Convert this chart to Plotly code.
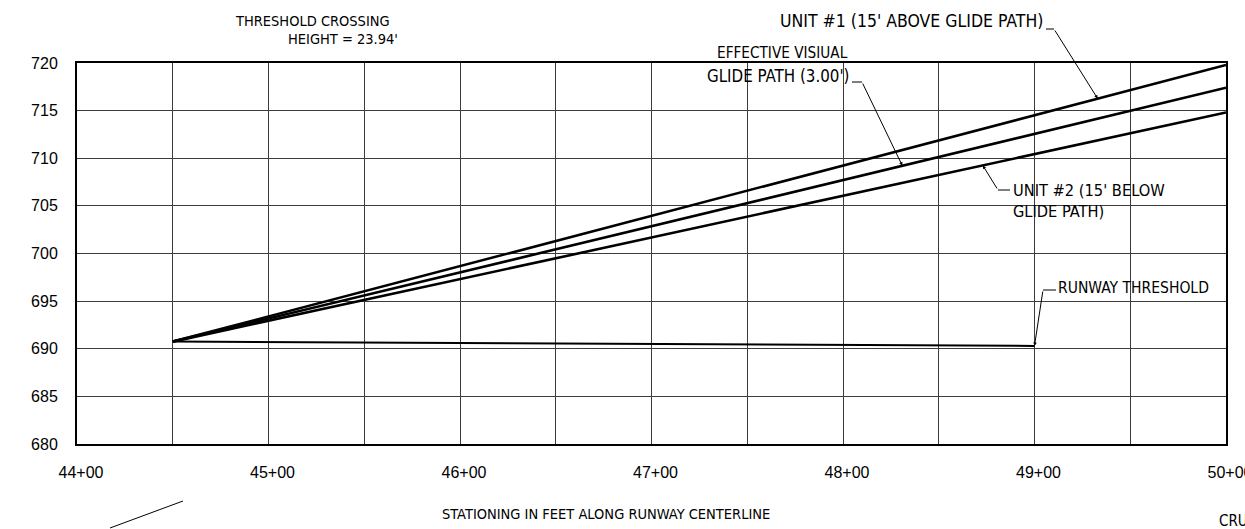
import numpy as np
import plotly.graph_objects as go

# ---------------- data ----------------
glide_stations = [4450, 5000]          # ft (44+50 -> 50+00)
unit1_elev = [690.75, 719.8]           # 15' above glide path
glide_elev = [690.75, 717.4]           # effective visual glide path (3.00 deg)
unit2_elev = [690.75, 714.8]           # 15' below glide path

runway_stations = [4450, 4900]
runway_elev = [690.75, 690.3]

grid_stations = [4400, 4450, 4500, 4550, 4600, 4650, 4700, 4750, 4800, 4850, 4900, 4950, 5000]
station_labels = ["44+00", "", "45+00", "", "46+00", "", "47+00", "", "48+00", "", "49+00", "", "50+00"]
elev_ticks = [680, 685, 690, 695, 700, 705, 710, 715, 720]

# ---------------- layout geometry ----------------
W, H = 1245, 529
L, R, T, B = 77, 19, 63, 85
PW, PH = W - L - R, H - T - B
X0, X1 = 4400, 5000
Y0, Y1 = 680, 720

def pxx(x):   # pixel x -> paper
    return (x - L) / PW

def pxy(y):   # pixel y -> paper
    return (H - B - y) / PH

def data_to_px(st, el):
    return L + (st - X0) / (X1 - X0) * PW, T + (Y1 - el) / (Y1 - Y0) * PH

CAD = "DejaVu Sans Condensed, DejaVu Sans, sans-serif"
TICKF = "Liberation Sans, Arial, sans-serif"

fig = go.Figure()
for ys in [unit1_elev, glide_elev, unit2_elev]:
    fig.add_trace(go.Scatter(x=glide_stations, y=ys, mode="lines",
                             line=dict(color="black", width=2.6), showlegend=False,
                             hoverinfo="skip"))
fig.add_trace(go.Scatter(x=runway_stations, y=runway_elev, mode="lines",
                         line=dict(color="black", width=2), showlegend=False,
                         hoverinfo="skip"))

annotations = []
shapes = []

def text(s, x, y, xanchor, size=14.5, yanchor="middle", align="left"):
    annotations.append(dict(text=s, x=pxx(x), y=pxy(y), xref="paper", yref="paper",
                            xanchor=xanchor, yanchor=yanchor, align=align, showarrow=False,
                            font=dict(family=CAD, size=size, color="black")))

def leader(dash_from, bend, tip_station, series_x, series_y):
    tip_el = float(np.interp(tip_station, series_x, series_y))
    tx, ty = data_to_px(tip_station, tip_el)
    shapes.append(dict(type="line", xref="paper", yref="paper",
                       x0=pxx(dash_from[0]), y0=pxy(dash_from[1]),
                       x1=pxx(bend[0]), y1=pxy(bend[1]),
                       line=dict(color="black", width=1)))
    annotations.append(dict(x=tip_station, y=tip_el, xref="x", yref="y", text="",
                            showarrow=True, ax=bend[0] - tx, ay=bend[1] - ty,
                            arrowhead=2, arrowsize=0.7, arrowwidth=1, arrowcolor="black"))

# threshold crossing
text("THRESHOLD CROSSING", 392, 21, "right", 14.5)
text("HEIGHT = 23.94'", 400, 39, "right", 14.5)

# unit #1
text("UNIT #1 (15' ABOVE GLIDE PATH)", 1045, 21, "right", 17.5)
leader((1046, 29), (1054, 29), 4933, glide_stations, unit1_elev)

# effective glide path
text("EFFECTIVE VISIUAL", 782, 53, "center", 15.2)
text("GLIDE PATH (3.00')", 851, 76, "right", 16.8)
leader((852, 82), (862, 82), 4831, glide_stations, glide_elev)

# unit #2
text("UNIT #2 (15' BELOW<br>GLIDE PATH)", 1011, 201, "left", 16.3)
leader((1010, 190), (998, 190), 4873, glide_stations, unit2_elev)

# runway threshold
text("RUNWAY THRESHOLD", 1056, 288, "left", 15.5)
leader((1056, 290), (1043, 290), 4900, runway_stations, runway_elev)

# axis title and page remnants
text("STATIONING IN FEET ALONG RUNWAY CENTERLINE", 606, 514, "center", 14.5)
text("CRU", 1217, 521, "left", 15)
shapes.append(dict(type="line", xref="paper", yref="paper",
                   x0=pxx(110), y0=pxy(528), x1=pxx(183), y1=pxy(501),
                   line=dict(color="black", width=1)))

fig.update_layout(
    width=W, height=H,
    margin=dict(l=L, r=R, t=T, b=B, autoexpand=False),
    paper_bgcolor="white", plot_bgcolor="white",
    annotations=annotations, shapes=shapes,
    xaxis=dict(range=[X0, X1], tickmode="array", tickvals=grid_stations, ticktext=station_labels,
               showgrid=True, gridcolor="#3c3c3c", gridwidth=1, zeroline=False,
               showline=True, linecolor="black", linewidth=2, mirror=True,
               ticks="", ticklabelstandoff=13, ticklabelshift=4, automargin=False,
               ticklabeloverflow="allow",
               tickfont=dict(family=TICKF, size=16, color="black"), fixedrange=True),
    yaxis=dict(range=[Y0, Y1], tickmode="array", tickvals=elev_ticks,
               showgrid=True, gridcolor="#3c3c3c", gridwidth=1, zeroline=False,
               showline=True, linecolor="black", linewidth=2, mirror=True,
               ticks="", ticklabelstandoff=14, automargin=False,
               tickfont=dict(family=TICKF, size=16, color="black"), fixedrange=True),
)

fig.write_html("out.html", config={"displayModeBar": False},
               post_script="document.body.style.margin='0';document.body.style.overflow='hidden';")
